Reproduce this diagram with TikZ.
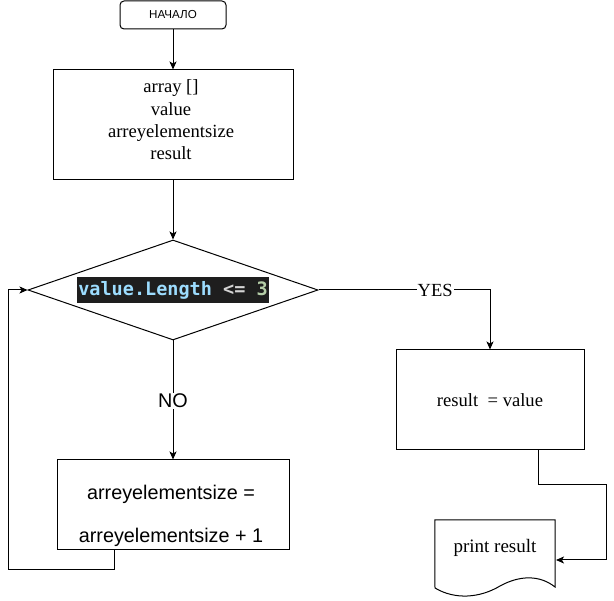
\documentclass[tikz,border=0pt]{standalone}
\usepackage{fontspec}
\setmainfont{Liberation Serif}
\newfontfamily\arialf{Liberation Sans}
\newfontfamily\codef{DejaVu Sans Mono}
\usetikzlibrary{arrows.meta,calc,shapes.geometric}
\definecolor{codebg}{HTML}{1E1E1E}
\definecolor{codeblue}{HTML}{9CDCFE}
\definecolor{codegray}{HTML}{D4D4D4}
\definecolor{codegreen}{HTML}{B5CEA8}
\tikzset{
  base/.style={line width=1pt, draw=black},
  startbox/.style={base, rounded corners=4pt, minimum width=106pt, minimum height=28pt, inner sep=0pt, font=\arialf\fontsize{11.6}{13}\selectfont},
  serift/.style={font=\fontsize{18.6}{22.4}\selectfont, align=center, inner sep=0pt},
  sanst/.style={font=\arialf\fontsize{19.8}{23}\selectfont, align=center, inner sep=0pt},
  decision/.style={base, diamond, minimum width=290pt, minimum height=100pt, inner sep=0pt},
  conn/.style={line width=1pt, -{Stealth[length=8pt,width=7pt,inset=2pt]}},
  lbl/.style={fill=white, inner sep=1pt},
}
\begin{document}
\begin{tikzpicture}[x=1pt,y=-1pt]
\useasboundingbox (0,0) rectangle (614,601);
% nodes
\node[startbox] (start) at (173,15) {НАЧАЛО};
\node[base, minimum width=240pt, minimum height=110pt, inner sep=0pt] (vars) at (173,125) {};
\node[serift] (varst) at (171,120) {array []\\value\\arreyelementsize\\result};
\node[decision] (dia) at (173,290) {};
\node[fill=codebg, inner sep=1pt, minimum height=26pt, font=\codef\bfseries\fontsize{18.5}{20}\selectfont] (code) at (173,290)
  {\textcolor{codeblue}{value.Length}\textcolor{codegray}{\ <=\ }\textcolor{codegreen}{3}};
\node[base, minimum width=232pt, minimum height=90pt, inner sep=0pt] (incr) at (173,505) {};
\node[sanst] (incrt) at (171,516) {arreyelementsize =\\[20pt]arreyelementsize + 1};
\node[base, minimum width=188pt, minimum height=100pt, inner sep=0pt] (res) at (490,400) {};
\node[font=\fontsize{18.6}{22}\selectfont, inner sep=0pt] (rest) at (490,400) {result\ \ = value};
\node[minimum width=120pt, minimum height=56pt, inner sep=0pt, font=\fontsize{19}{22}\selectfont] (doc) at (495,548) {print result};
% document outline
\draw[line width=1pt] (doc.north west) -- (doc.north east) -- (555,587)
  .. controls (540,575) and (520,575) .. (500,586)
  .. controls (480,598) and (455,600) .. (435,588) -- cycle;
% coordinates
\coordinate (loopc) at (8,570);
\coordinate (c1) at (606,485);
\coordinate (docin) at (556,560);
% connectors
\draw[conn] (start) -- (vars);
\draw[conn] (vars) -- (dia);
\draw[conn] (dia.south) -- (incr.north) node[pos=0.505, lbl, font=\arialf\fontsize{19.8}{23}\selectfont] {NO};
\draw[conn] ([xshift=58pt]incr.south west) |- (loopc) |- (dia.west);
\draw[conn] (dia.east) -| (res.north) node[pos=0.34, lbl, font=\fontsize{18.5}{20}\selectfont] {YES};
\draw[conn] ([xshift=48pt]res.south) |- (c1) |- (docin);
\end{tikzpicture}
\end{document}
